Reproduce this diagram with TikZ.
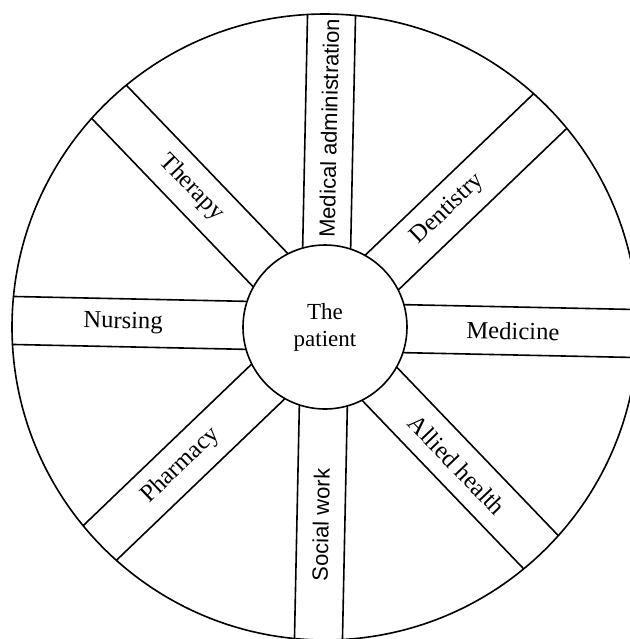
\documentclass[tikz,border=0pt]{standalone}
\usepackage{fontspec}
\setmainfont{Liberation Serif}
\setsansfont{Liberation Sans}
\usetikzlibrary{calc}
\begin{document}
\begin{tikzpicture}[x=0.5pt,y=0.5pt,
  ln/.style={line width=0.8pt},
  lab/.style={font=\fontsize{12.3}{14}\selectfont, inner sep=0pt},
  slab/.style={font=\sffamily\fontsize{11}{13}\selectfont, inner sep=0pt}]
\useasboundingbox (0,0) rectangle (630,-639);
\fill[white] (0,0) rectangle (630,-639);
\clip (0,0) rectangle (630,-639);
\coordinate (C) at (325,-327);
\draw[ln] (C) circle (313);
\draw[ln] (C) circle (82);
\foreach \a in {-1.2,43.8,88.8,133.8,178.8,223.8,268.8,313.8}{
  \begin{scope}[shift={(C)}, rotate=\a]
    \draw[ln] (78.4,24) -- (312.1,24);
    \draw[ln] (78.4,-24) -- (312.1,-24);
  \end{scope}
}
\node[align=center, font=\fontsize{11.5}{13.5}\selectfont, inner sep=0pt] (P) at (C) {The\\patient};
\node[lab, rotate=-1.2] (med) at ($(C)+(-1.2:188)$) {Medicine};
\node[lab, rotate=43.8] (den) at ($(C)+(43.8:170)$) {Dentistry};
\node[slab, rotate=88.8] (adm) at ($(C)+(88.8:199)$) {Medical administration};
\node[lab, rotate=-46.2] (the) at ($(C)+(133.8:193)$) {Therapy};
\node[lab, rotate=-1.2] (nur) at ($(C)+(178.8:202)$) {Nursing};
\node[lab, rotate=43.8] (pha) at ($(C)+(223.8:200)$) {Pharmacy};
\node[slab, rotate=88.8] (soc) at ($(C)+(268.8:198)$) {Social work};
\node[lab, rotate=-46.2] (all) at ($(C)+(313.8:191)$) {Allied health};
\end{tikzpicture}
\end{document}
